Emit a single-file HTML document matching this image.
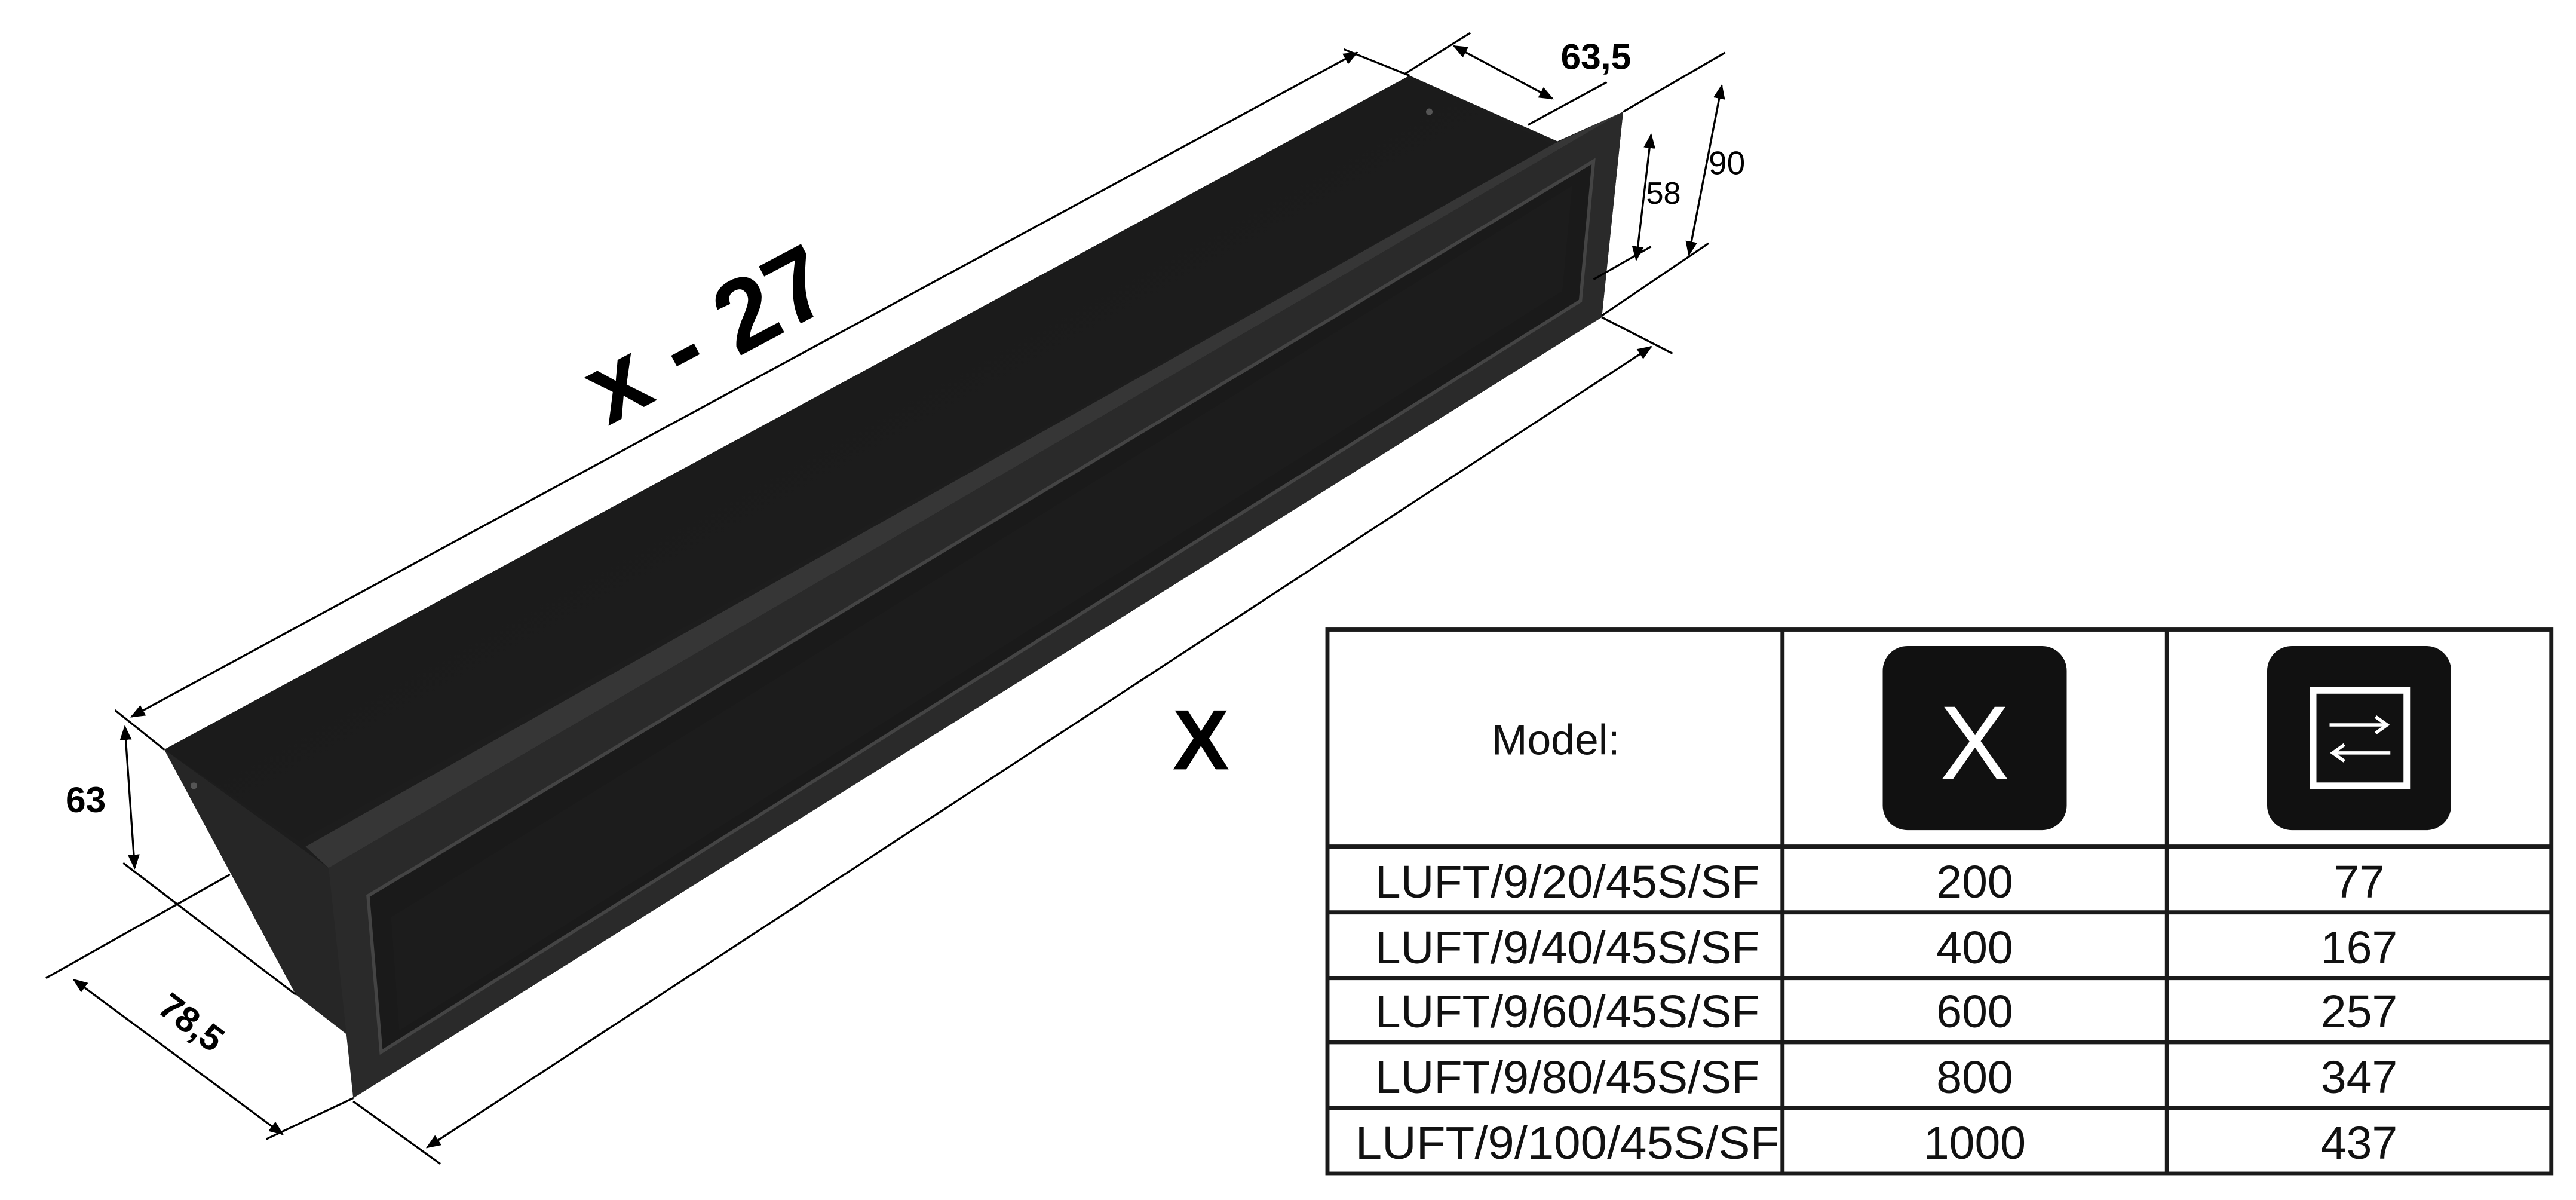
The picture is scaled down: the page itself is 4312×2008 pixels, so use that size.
<!DOCTYPE html>
<html><head><meta charset="utf-8"><style>
html,body{margin:0;padding:0;background:#fff;}
svg{display:block;}
text{font-family:"Liberation Sans",sans-serif;}
</style></head><body>
<svg width="4312" height="2008" viewBox="0 0 1568 730" preserveAspectRatio="none" xmlns="http://www.w3.org/2000/svg">
<defs>
<marker id="a" viewBox="0 0 10 10" refX="9" refY="5" markerWidth="9" markerHeight="9" orient="auto-start-reverse" markerUnits="userSpaceOnUse"><path d="M0,1 L10,5 L0,9 z" fill="#000"/></marker>
<linearGradient id="g1" x1="0" y1="0" x2="1" y2="1"><stop offset="0" stop-color="#151515"/><stop offset="1" stop-color="#222"/></linearGradient>
</defs>
<rect width="1568" height="730" fill="#fff"/>
<polygon points="100,456 858,46 948,86 988,68 975,193 215,668 212,630 180,605" fill="#1d1d1d"/>
<polygon points="100,456 858,46 945,88 182,512" fill="url(#g1)"/>
<polygon points="100,456 200,528 212,630 180,605" fill="#262626"/>
<polygon points="186,515 945,88 988,68 200,528" fill="#363636"/>
<polygon points="200,528 988,68 975,193 215,668" fill="#2a2a2a"/>
<polygon points="224,545 970,98 962,183 232,640" fill="#1a1a1a" stroke="#444" stroke-width="2"/>
<polygon points="238,558 957,113 951,177 243,627" fill="#1c1c1c"/>
<circle cx="118" cy="478" r="2" fill="#555"/><circle cx="870" cy="68" r="2" fill="#555"/>
<g stroke="#000" stroke-width="1.2" fill="none">
<line x1="80" y1="436" x2="826" y2="32" marker-start="url(#a)" marker-end="url(#a)"/>
<line x1="70" y1="432" x2="100" y2="456"/><line x1="818" y1="30" x2="858" y2="46"/>
<line x1="885" y1="28" x2="945" y2="60" marker-start="url(#a)" marker-end="url(#a)"/>
<line x1="855" y1="45" x2="895" y2="20"/><line x1="930" y1="76" x2="978" y2="50"/>
<line x1="1048" y1="52" x2="1028" y2="155" marker-start="url(#a)" marker-end="url(#a)"/>
<line x1="988" y1="68" x2="1050" y2="32"/><line x1="975" y1="192" x2="1040" y2="148"/>
<line x1="1005" y1="82" x2="996" y2="158" marker-start="url(#a)" marker-end="url(#a)"/>
<line x1="970" y1="170" x2="1005" y2="150"/>
<line x1="260" y1="698" x2="1005" y2="211" marker-start="url(#a)" marker-end="url(#a)"/>
<line x1="215" y1="670" x2="268" y2="708"/><line x1="975" y1="193" x2="1018" y2="215"/>
<line x1="76" y1="442" x2="82" y2="528" marker-start="url(#a)" marker-end="url(#a)"/>
<line x1="75" y1="525" x2="180" y2="605"/>
<line x1="45" y1="596" x2="172" y2="690" marker-start="url(#a)" marker-end="url(#a)"/>
<line x1="28" y1="595" x2="140" y2="532"/><line x1="162" y1="693" x2="215" y2="668"/>
</g>
<g font-weight="bold" fill="#000">
<text x="0" y="0" font-size="62" transform="translate(440,222) rotate(-28)" text-anchor="middle">x - 27</text>
<text x="950" y="42" font-size="22">63,5</text>
<text x="40" y="494" font-size="22">63</text>
<text x="0" y="0" font-size="22" transform="translate(112,628) rotate(37)" text-anchor="middle">78,5</text>
<text x="731" y="468" font-size="52" text-anchor="middle">X</text>
</g>
<text x="1040" y="106" font-size="20">90</text>
<text x="1002" y="124" font-size="19">58</text>
<g stroke="#1a1a1a" stroke-width="2.5" fill="none">
<rect x="808" y="383" width="745" height="331"/>
<line x1="1085" y1="383" x2="1085" y2="714"/><line x1="1319" y1="383" x2="1319" y2="714"/>
<line x1="808" y1="515" x2="1553" y2="515"/><line x1="808" y1="555" x2="1553" y2="555"/>
<line x1="808" y1="595" x2="1553" y2="595"/><line x1="808" y1="634" x2="1553" y2="634"/>
<line x1="808" y1="674" x2="1553" y2="674"/>
</g>
<rect x="1146" y="393" width="112" height="112" rx="15" fill="#111"/>
<text x="1202" y="474" font-size="64" fill="#fff" text-anchor="middle">X</text>
<rect x="1380" y="393" width="112" height="112" rx="15" fill="#111"/>
<rect x="1408" y="420" width="57" height="58" fill="none" stroke="#fff" stroke-width="4"/>
<g stroke="#fff" stroke-width="2" fill="none"><line x1="1418" y1="441" x2="1452" y2="441"/><path d="M1446,436 L1453,441 L1446,446"/><line x1="1421" y1="458" x2="1455" y2="458"/><path d="M1427,453 L1420,458 L1427,463"/></g>
<g font-size="28" fill="#111" text-anchor="middle">
<text x="947" y="459" font-size="26">Model:</text>
<text x="954" y="546" textLength="234" lengthAdjust="spacingAndGlyphs">LUFT/9/20/45S/SF</text><text x="1202" y="546">200</text><text x="1436" y="546">77</text>
<text x="954" y="586" textLength="234" lengthAdjust="spacingAndGlyphs">LUFT/9/40/45S/SF</text><text x="1202" y="586">400</text><text x="1436" y="586">167</text>
<text x="954" y="625" textLength="234" lengthAdjust="spacingAndGlyphs">LUFT/9/60/45S/SF</text><text x="1202" y="625">600</text><text x="1436" y="625">257</text>
<text x="954" y="665" textLength="234" lengthAdjust="spacingAndGlyphs">LUFT/9/80/45S/SF</text><text x="1202" y="665">800</text><text x="1436" y="665">347</text>
<text x="954" y="705" textLength="258" lengthAdjust="spacingAndGlyphs">LUFT/9/100/45S/SF</text><text x="1202" y="705">1000</text><text x="1436" y="705">437</text>
</g>
</svg>
</body></html>
